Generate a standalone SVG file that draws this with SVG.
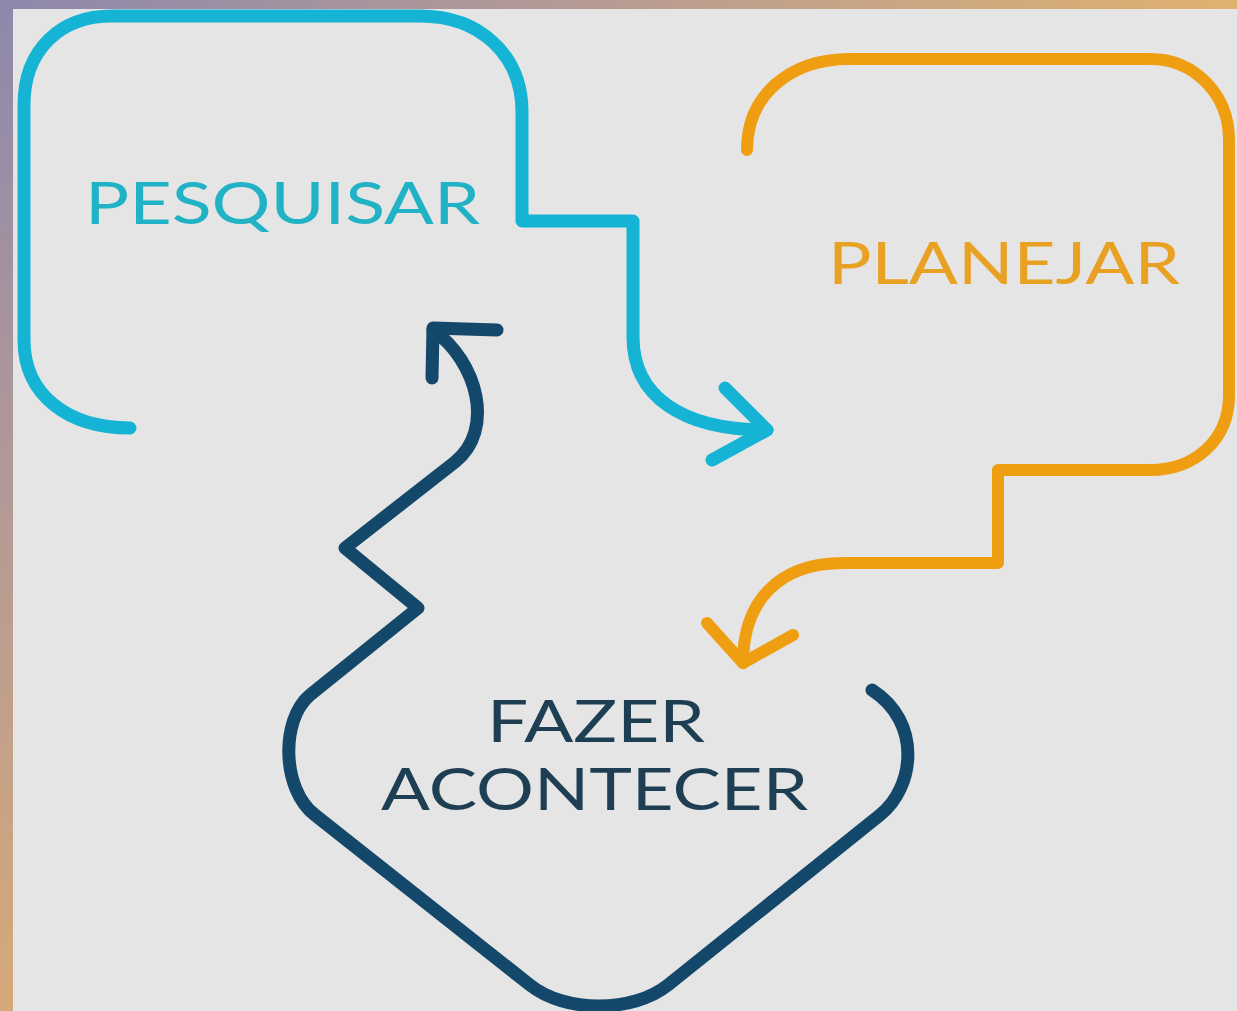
<svg xmlns="http://www.w3.org/2000/svg" width="1237" height="1011" viewBox="0 0 1237 1011">
  <defs>
    <linearGradient id="topBand" x1="0" y1="0" x2="1" y2="0">
      <stop offset="0" stop-color="#8e88ac"/>
      <stop offset="0.5" stop-color="#b89c93"/>
      <stop offset="1" stop-color="#e0b26f"/>
    </linearGradient>
    <linearGradient id="leftBand" x1="0" y1="0" x2="0" y2="1">
      <stop offset="0" stop-color="#8e88ac"/>
      <stop offset="0.5" stop-color="#b49a96"/>
      <stop offset="1" stop-color="#d6a978"/>
    </linearGradient>
    <style>
      .line { fill: none; stroke-linecap: round; stroke-linejoin: round; stroke-width: 13; }
      .cyan { stroke: #15b4d5; }
      .orange { stroke: #ef9e12; stroke-width: 12; }
      .navy { stroke: #14486a; }
      .label { font-family: "Lato", "Open Sans", "Liberation Sans", sans-serif; font-weight: 400; font-size: 58px; }
    </style>
  </defs>

  <rect x="0" y="0" width="1237" height="1011" fill="#e5e5e5"/>
  <rect x="0" y="0" width="1237" height="9" fill="url(#topBand)"/>
  <rect x="0" y="0" width="13" height="1011" fill="url(#leftBand)"/>

  <g id="connectors">
    <path class="line cyan" d="M130,428 C68,428 24,395 24,340 L24,105 C24,50 60,16 112,16 L420,16 C480,16 522,55 522,112 L522,221 L633,221 L633,337 C633,395 680,430 767,430"/>
    <polyline class="line cyan" points="725,388 767,430 712,460"/>

    <path class="line orange" d="M747,150 C747,95 790,59 850,59 L1150,59 C1195,59 1229,95 1229,140 L1229,395 C1229,440 1195,470 1150,470 L998,470 L998,563 L843,563 C780,563 743,600 743,663"/>
    <polyline class="line orange" points="707,623 743,663 793,635"/>

    <path class="line navy" d="M433,330 C478,362 495,430 455,462 L345,548 L418,608 L310,695 C280,720 282,790 315,815 L530,985 C565,1013 633,1013 668,985 L880,815 C915,787 922,722 872,690"/>
    <polyline class="line navy" points="497,330 433,328 432,378"/>
  </g>

  <g id="node-pesquisar">
    <text class="label" x="85" y="224" fill="#22b2c6" textLength="395" lengthAdjust="spacingAndGlyphs">PESQUISAR</text>
  </g>
  <g id="node-planejar">
    <text class="label" x="828" y="284" fill="#e9a124" textLength="352" lengthAdjust="spacingAndGlyphs">PLANEJAR</text>
  </g>
  <g id="node-fazer-acontecer">
    <text class="label" x="487" y="742" fill="#1d3e53" textLength="218" lengthAdjust="spacingAndGlyphs">FAZER</text>
    <text class="label" x="381" y="810" fill="#1d3e53" textLength="427" lengthAdjust="spacingAndGlyphs">ACONTECER</text>
  </g>
</svg>
